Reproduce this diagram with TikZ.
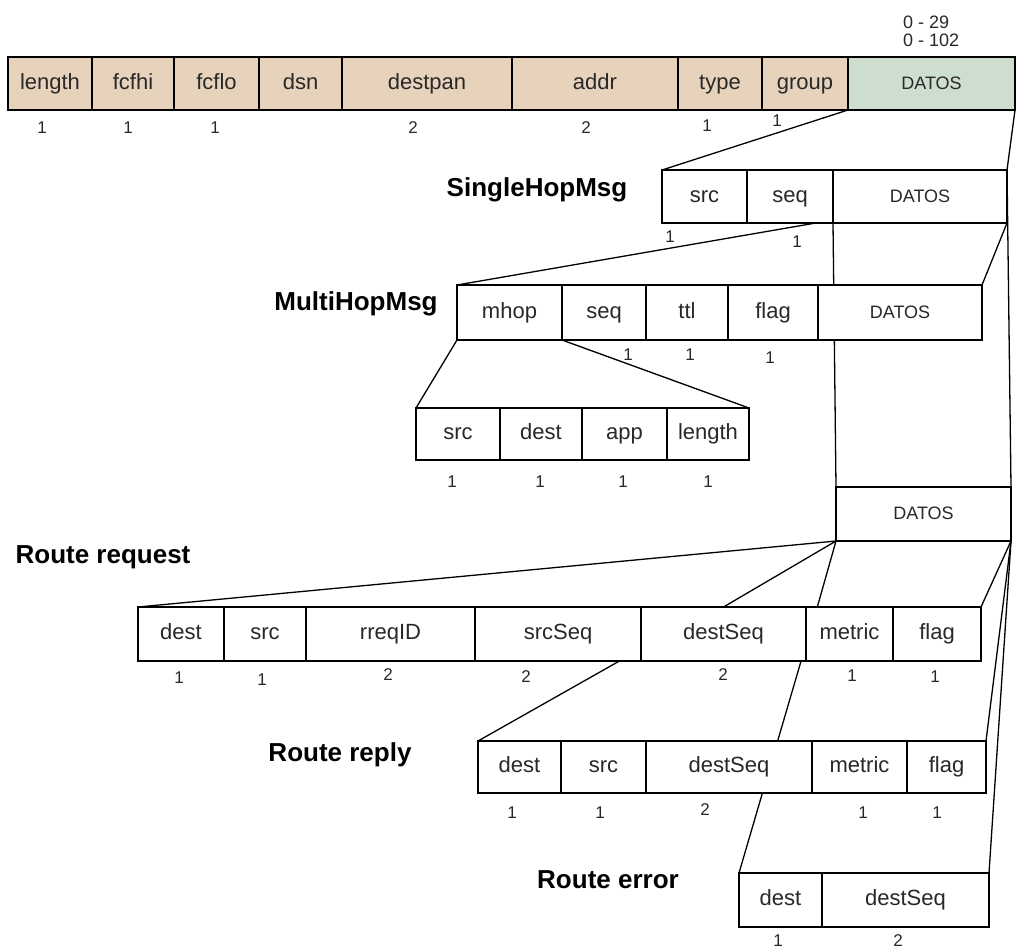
\documentclass[tikz,border=0pt]{standalone}
\usepackage{fontspec}
\setmainfont{Liberation Sans}
\usetikzlibrary{calc,backgrounds}

\definecolor{hdrtan}{RGB}{231,211,188}
\definecolor{hdrgreen}{RGB}{206,222,206}
\definecolor{ink}{RGB}{40,40,40}

\tikzset{
  cell/.style={draw=black, line width=2.2pt, fill=white, inner sep=0pt, outer sep=0pt,
               font=\fontsize{22}{24}\selectfont, text=ink, text height=16pt, text depth=5pt},
  hdr/.style={fill=hdrtan},
  payload/.style={font=\fontsize{18}{20}\selectfont, text height=13pt, text depth=2pt},
  datafill/.style={fill=hdrgreen},
  num/.style={inner sep=0pt, font=\fontsize{17}{19}\selectfont, text=ink},
  rangelbl/.style={inner sep=0pt, font=\fontsize{18}{21}\selectfont, text=ink, align=left, anchor=west},
  lbl/.style={inner sep=0pt, font=\bfseries\fontsize{26}{28}\selectfont, text=black},
  link/.style={draw=black, line width=1.3pt},
}

% \pktfield[style]{name}{x left}{x right}{y top}{y bottom}{text}
\newcommand\pktfield[7][]{%
  \node[cell,#1,minimum width={(#4-#3)*1pt},minimum height={(#6-#5)*1pt}]
    (#2) at ({(#3+#4)/2},{(#5+#6)/2}) {#7};}

\begin{document}
\begin{tikzpicture}[x=1pt,y=-1pt]
\path[use as bounding box] (0,0) rectangle (1017,951);

% ---- frame header
\pktfield[hdr]{tLength}{8}{92}{57}{110}{length}
\pktfield[hdr]{tFcfhi}{92}{174}{57}{110}{fcfhi}
\pktfield[hdr]{tFcflo}{174}{259}{57}{110}{fcflo}
\pktfield[hdr]{tDsn}{259}{342}{57}{110}{dsn}
\pktfield[hdr]{tDestpan}{342}{512}{57}{110}{destpan}
\pktfield[hdr]{tAddr}{512}{678}{57}{110}{addr}
\pktfield[hdr]{tType}{678}{762}{57}{110}{type}
\pktfield[hdr]{tGroup}{762}{848}{57}{110}{group}
\pktfield[datafill,payload]{tDatos}{848}{1015}{57}{110}{DATOS}

\node[num] (nt1) at (42,128) {1};
\node[num] (nt2) at (128,128) {1};
\node[num] (nt3) at (215,128) {1};
\node[num] (nt4) at (413,128) {2};
\node[num] (nt5) at (586,128) {2};
\node[num] (nt6) at (707,126) {1};
\node[num] (nt7) at (777,121) {1};
\node[rangelbl] (rng) at (903,31) {0 - 29\\[-3pt]0 - 102};

% ---- SingleHopMsg
\node[lbl] (lSingle) at (537,190) {SingleHopMsg};
\pktfield{sSrc}{662}{747}{170}{223}{src}
\pktfield{sSeq}{747}{833}{170}{223}{seq}
\pktfield[payload]{sDatos}{833}{1007}{170}{223}{DATOS}
\node[num] (ns1) at (670,237) {1};
\node[num] (ns2) at (797,242) {1};

% ---- MultiHopMsg
\node[lbl] (lMulti) at (356,304) {MultiHopMsg};
\pktfield{mMhop}{457}{562}{285}{340}{mhop}
\pktfield{mSeq}{562}{646}{285}{340}{seq}
\pktfield{mTtl}{646}{728}{285}{340}{ttl}
\pktfield{mFlag}{728}{818}{285}{340}{flag}
\pktfield[payload]{mDatos}{818}{982}{285}{340}{DATOS}
\node[num] (nm1) at (628,355) {1};
\node[num] (nm2) at (690,355) {1};
\node[num] (nm3) at (770,358) {1};

% ---- mhop header
\pktfield{hSrc}{416}{500}{408}{460}{src}
\pktfield{hDest}{500}{582}{408}{460}{dest}
\pktfield{hApp}{582}{667}{408}{460}{app}
\pktfield{hLength}{667}{749}{408}{460}{length}
\node[num] (nh1) at (452,482) {1};
\node[num] (nh2) at (540,482) {1};
\node[num] (nh3) at (623,482) {1};
\node[num] (nh4) at (708,482) {1};

% ---- routing payload
\pktfield[payload]{dDatos}{836}{1011}{487}{541}{DATOS}

% ---- Route request
\node[lbl] (lReq) at (103,557) {Route request};
\pktfield{qDest}{138}{224}{607}{661}{dest}
\pktfield{qSrc}{224}{306}{607}{661}{src}
\pktfield{qRreq}{306}{475}{607}{661}{rreqID}
\pktfield{qSrcSeq}{475}{641}{607}{661}{srcSeq}
\pktfield{qDestSeq}{641}{806}{607}{661}{destSeq}
\pktfield{qMetric}{806}{893}{607}{661}{metric}
\pktfield{qFlag}{893}{981}{607}{661}{flag}
\node[num] (nq1) at (179,678) {1};
\node[num] (nq2) at (262,680) {1};
\node[num] (nq3) at (388,675) {2};
\node[num] (nq4) at (526,677) {2};
\node[num] (nq5) at (723,675) {2};
\node[num] (nq6) at (852,676) {1};
\node[num] (nq7) at (935,677) {1};

% ---- Route reply
\node[lbl] (lRep) at (340,755) {Route reply};
\pktfield{pDest}{478}{561}{741}{793}{dest}
\pktfield{pSrc}{561}{646}{741}{793}{src}
\pktfield{pDestSeq}{646}{812}{741}{793}{destSeq}
\pktfield{pMetric}{812}{907}{741}{793}{metric}
\pktfield{pFlag}{907}{986}{741}{793}{flag}
\node[num] (np1) at (512,813) {1};
\node[num] (np2) at (600,813) {1};
\node[num] (np3) at (705,810) {2};
\node[num] (np4) at (863,813) {1};
\node[num] (np5) at (937,813) {1};

% ---- Route error
\node[lbl] (lErr) at (608,880) {Route error};
\pktfield{eDest}{739}{822}{873}{927}{dest}
\pktfield{eDestSeq}{822}{989}{873}{927}{destSeq}
\node[num] (ne1) at (778,941) {1};
\node[num] (ne2) at (898,941) {2};

% ---- page and expansion lines (behind the boxes)
\begin{scope}[on background layer]
  \fill[white] (0,0) rectangle (1017,951);
  \draw[link] (tDatos.south west) -- (sSrc.north west);
  \draw[link] (tDatos.south east) -- (sDatos.north east) -- (dDatos.north east);
  \draw[link] ($(sSeq.south east)!0.2!(sSeq.south west)$) -- (mMhop.north west);
  \draw[link] (sDatos.south west) -- (dDatos.north west);
  \draw[link] (sDatos.south east) -- (mDatos.north east);
  \draw[link] (mMhop.south west) -- (hSrc.north west);
  \draw[link] (mMhop.south east) -- (hLength.north east);
  \draw[link] (dDatos.south west) -- (qDest.north west);
  \draw[link] (dDatos.south west) -- (qDestSeq.north);
  \draw[link] (dDatos.south west) -- ($(qMetric.north west)!0.13!(qMetric.north east)$);
  \draw[link] (dDatos.south east) -- (qFlag.north east);
  \draw[link] (dDatos.south east) -- (pFlag.north east);
  \draw[link] (dDatos.south east) -- (eDestSeq.north east);
  \draw[link] ($(qSrcSeq.south west)!0.87!(qSrcSeq.south east)$) -- (pDest.north west);
  \draw[link] ($(qDestSeq.south east)!0.03!(qDestSeq.south west)$) -- (eDest.north west);
\end{scope}
\end{tikzpicture}
\end{document}
